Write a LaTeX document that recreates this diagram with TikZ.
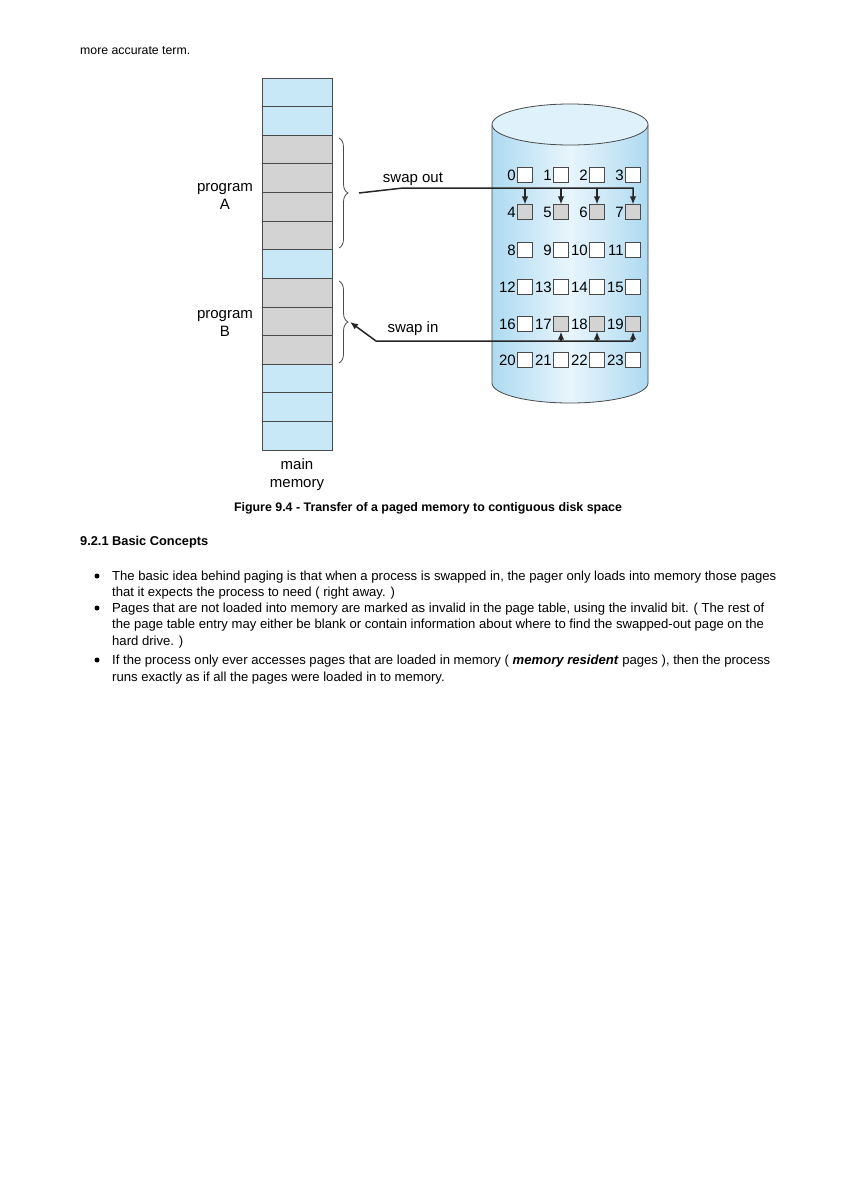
\documentclass[tikz,border=0pt]{standalone}
\usepackage{fontspec}
\setmainfont{Liberation Sans}
\usetikzlibrary{arrows.meta,decorations.pathreplacing,calc}
\definecolor{memblue}{HTML}{C8E8F8}
\definecolor{memgrey}{HTML}{D3D3D3}
\definecolor{cylside}{HTML}{AEDAF1}
\definecolor{cylmid}{HTML}{E8F5FC}
\definecolor{cyltop}{HTML}{DFF1FA}
\definecolor{edge}{HTML}{4A4A4A}
\begin{document}
\begin{tikzpicture}[x=1pt,y=-1pt,
  cell/.style={draw=edge, line width=0.9pt},
  lbl/.style={font=\fontsize{15}{18}\selectfont, align=center, inner sep=0pt},
  num/.style={font=\fontsize{15}{15}\selectfont, inner sep=0pt, anchor=east},
  dbox/.style={draw=edge, fill=white, minimum size=14.5pt, inner sep=0pt, line width=0.7pt},
  conn/.style={line width=1.5pt, black!85},
  tip/.style={-{Latex[length=8pt,width=6.5pt]}},
  body/.style={font=\fontsize{12.3}{14}\selectfont, anchor=base west, inner sep=0pt},
  btext/.style={font=\fontsize{13.1}{15}\selectfont, anchor=base west, inner sep=0pt},
  bracestyle/.style={draw=edge, line width=0.8pt, decorate, decoration={brace, amplitude=9pt}},
]
\useasboundingbox (0,0) rectangle (846,1197);
\fill[white] (0,0) rectangle (846,1197);

% ---- main memory column
\foreach \i/\c in {0/memblue,1/memblue,2/memgrey,3/memgrey,4/memgrey,5/memgrey,6/memblue,7/memgrey,8/memgrey,9/memgrey,10/memblue,11/memblue,12/memblue}
  \draw[cell, fill=\c] (262,{78+\i*28.62}) rectangle (332,{78+(\i+1)*28.62});

\node[lbl] (progA) at (225,196) {program\\A};
\node[lbl] (progB) at (225,323) {program\\B};
\node[lbl] (mainmem) at (297,475) {main\\memory};

% ---- braces
\draw[bracestyle] (339,138) -- (339,248);
\draw[bracestyle] (339,281) -- (339,363);
\coordinate (Atip) at (359,193);
\coordinate (Btip) at (350,322);

% ---- disk cylinder
\shade[left color=cylside, right color=cylside, middle color=cylmid]
  (492,124.5) -- (492,383) arc[start angle=180, end angle=0, x radius=78, y radius=20] -- (648,124.5) -- cycle;
\draw[edge, line width=0.8pt] (492,124.5) -- (492,383) arc[start angle=180, end angle=0, x radius=78, y radius=20] -- (648,124.5);
\draw[edge, line width=0.8pt, fill=cyltop] (570,124.5) ellipse [x radius=78, y radius=20.5];

% ---- disk blocks
\foreach \r/\y in {0/175,1/212,2/250,3/287,4/324,5/360}{
  \foreach \c/\x in {0/525,1/561,2/597,3/633}{
    \pgfmathtruncatemacro{\n}{4*\r+\c}
    \node[dbox] (b\n) at (\x,\y) {};
    \node[num] (n\n) at ($(b\n.west)+(-1.5,0)$) {\n};
  }
}
\foreach \n in {4,5,6,7,17,18,19}
  \node[dbox, fill=memgrey] at (b\n) {};

% ---- swap out
\coordinate (outbend) at (403,188);
\draw[conn, tip] (Atip) -- (outbend) -| (b7.north);
\foreach \n in {4,5,6}
  \draw[conn, tip] (b\n.north |- outbend) -- (b\n.north);
\node[lbl] (swapout) at (413,179) {swap out};

% ---- swap in
\coordinate (inbend) at (376,341);
\draw[conn, tip] (b19.south |- inbend) -- (inbend) -- (Btip);
\foreach \n in {17,18,19}
  \draw[conn, tip] (b\n.south |- inbend) -- (b\n.south);
\node[lbl] (swapin) at (413,329) {swap in};

% ---- page text
\node[body] (t0) at (80,54) {more accurate term.};
\node[body, font=\fontsize{12.4}{14}\selectfont\bfseries, anchor=base] (cap) at (428,511) {Figure 9.4 - Transfer of a paged memory to contiguous disk space};
\node[body, font=\fontsize{12.8}{14}\selectfont\bfseries] (head) at (80,545) {9.2.1 Basic Concepts};
\foreach \y in {576,608,660} \fill (97,\y) circle (2.5);
\node[btext] (l1) at (112,580) {The basic idea behind paging is that when a process is swapped in, the pager only loads into memory those pages};
\node[btext] (l2) at (112,596) {that it expects the process to need ( right away. )};
\node[btext] (l3) at (112,612) {Pages that are not loaded into memory are marked as invalid in the page table, using the invalid bit. ( The rest of};
\node[btext] (l4) at (112,628) {the page table entry may either be blank or contain information about where to find the swapped-out page on the};
\node[btext] (l5) at (112,645) {hard drive. )};
\node[btext] (l6) at (112,664) {If the process only ever accesses pages that are loaded in memory ( \textbf{\textit{memory resident}} pages ), then the process};
\node[btext] (l7) at (112,681) {runs exactly as if all the pages were loaded in to memory.};
\end{tikzpicture}
\end{document}
